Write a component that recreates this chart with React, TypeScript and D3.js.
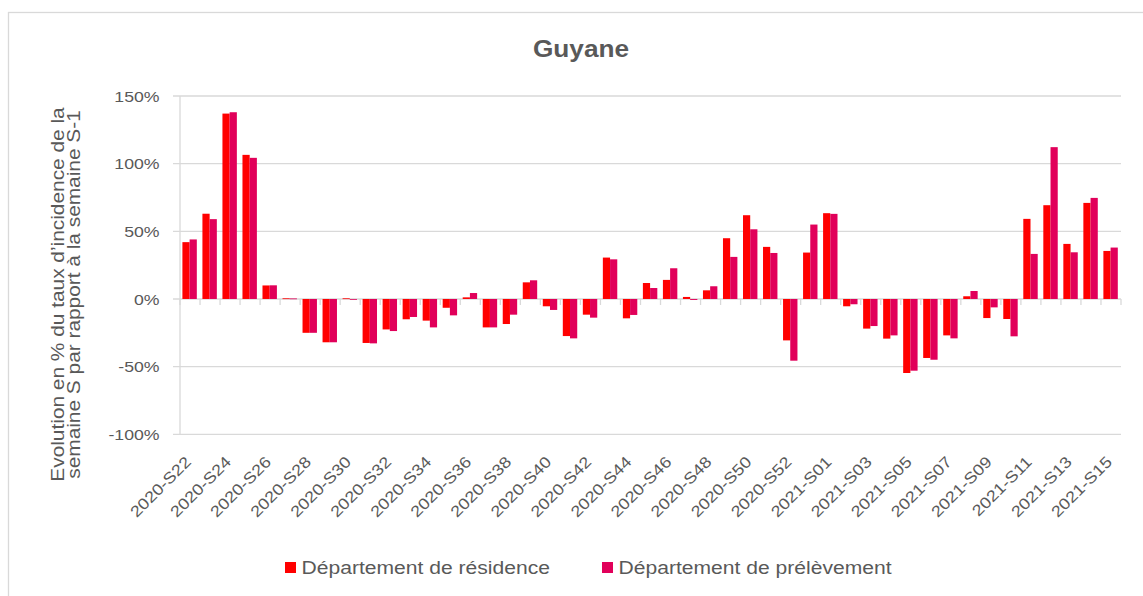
import React from "react";
import * as d3 from "d3";

const categories: string[] = [
  "2020-S22", "2020-S23", "2020-S24", "2020-S25", "2020-S26", "2020-S27", "2020-S28", "2020-S29",
  "2020-S30", "2020-S31", "2020-S32", "2020-S33", "2020-S34", "2020-S35", "2020-S36", "2020-S37",
  "2020-S38", "2020-S39", "2020-S40", "2020-S41", "2020-S42", "2020-S43", "2020-S44", "2020-S45",
  "2020-S46", "2020-S47", "2020-S48", "2020-S49", "2020-S50", "2020-S51", "2020-S52", "2020-S53",
  "2021-S01", "2021-S02", "2021-S03", "2021-S04", "2021-S05", "2021-S06", "2021-S07", "2021-S08",
  "2021-S09", "2021-S10", "2021-S11", "2021-S12", "2021-S13", "2021-S14", "2021-S15",
];

const residence: number[] = [
  42, 63, 137, 106.5, 10, 0.5, -25, -32, 0.5, -32.5, -22.5, -15, -16, -6.5, 1.2, -21,
  -18.5, 12.3, -5.4, -27.4, -11.6, 30.6, -14.3, 11.8, 14.1, 1.5, 6.4, 44.9, 61.9, 38.5, -30.6, 34.3,
  63.4, -5.4, -21.9, -29.3, -54.7, -43.6, -26.9, 2, -14.1, -14.8, 59.2, 69.3, 40.7, 71, 35.5,
];

const prelevement: number[] = [
  44, 59, 138, 104.3, 10.1, 0.4, -25, -32, 0, -32.8, -23.7, -13.3, -21, -12.1, 4.4, -21,
  -11.6, 13.8, -8.1, -29.1, -13.8, 29.3, -11.8, 8.1, 22.7, -0.7, 9.4, 31.1, 51.5, 34, -45.6, 55,
  62.9, -3.9, -20, -26.9, -53, -44.9, -29.1, 5.9, -6.2, -27.6, 33.3, 112.2, 34.5, 74.7, 38,
];

const yTicks: number[] = [150, 100, 50, 0, -50, -100];
const yTickLabels: string[] = ["150%", "100%", "50%", "0%", "-50%", "-100%"];

const seriesNames: string[] = ["Département de résidence", "Département de prélèvement"];
const seriesColors: string[] = ["#FF0000", "#E1005A"];

const title = "Guyane";
const yTitleLines: string[] = [
  "Evolution en % du taux d\u2019incidence de la",
  "semaine S par rapport à la semaine S-1",
];

const W = 1143;
const H = 596;
const PLOT = { left: 180, right: 1121, top: 96, bottom: 434.3 };
const TEXT = "#595959";
const GRID = "#D9D9D9";
const SX = 1.14;
const FONT = "'Liberation Sans', Arial, sans-serif";

export default function App() {
  const x = d3
    .scaleBand<string>()
    .domain(categories)
    .range([PLOT.left, PLOT.right])
    .paddingInner(0)
    .paddingOuter(0);
  const y = d3.scaleLinear().domain([-100, 150]).range([PLOT.bottom, PLOT.top]);
  const band = x.bandwidth();
  const groupW = band * 0.72;
  const x1 = d3
    .scaleBand<number>()
    .domain([0, 1])
    .range([(band - groupW) / 2 - 0.4, (band + groupW) / 2 - 0.4]);
  const series = [residence, prelevement];
  const y0 = y(0);

  return (
    <svg
      width={W}
      height={H}
      style={{ position: "absolute", left: 0, top: 0, background: "#fff" }}
      fontFamily={FONT}
    >
      <rect x={0} y={0} width={W} height={H} fill="#fff" />
      <rect x={8.5} y={12.5} width={W + 20} height={H + 20} fill="none" stroke={GRID} strokeWidth={1.3} />

      {/* title */}
      <text
        transform={`translate(581,57) scale(${SX},1)`}
        textAnchor="middle"
        fontSize={23}
        fontWeight="bold"
        fill={TEXT}
      >
        {title}
      </text>

      {/* gridlines */}
      {yTicks.map((t) => (
        <line
          key={"g" + t}
          x1={PLOT.left - 7}
          x2={PLOT.right}
          y1={y(t)}
          y2={y(t)}
          stroke={GRID}
          strokeWidth={1.3}
        />
      ))}
      {/* y axis line */}
      <line x1={PLOT.left} x2={PLOT.left} y1={PLOT.top} y2={PLOT.bottom} stroke={GRID} strokeWidth={1.3} />

      {/* x tick marks on zero line */}
      {categories.map((c, i) => (
        <line
          key={"xt" + i}
          x1={(x(c) as number)}
          x2={(x(c) as number)}
          y1={y0}
          y2={y0 + 6}
          stroke={GRID}
          strokeWidth={1.3}
        />
      ))}
      <line x1={PLOT.right} x2={PLOT.right} y1={y0} y2={y0 + 6} stroke={GRID} strokeWidth={1.3} />

      {/* bars */}
      {series.map((vals, s) =>
        vals.map((v, i) => {
          const bx = (x(categories[i]) as number) + (x1(s) as number);
          const top = Math.min(y(v), y0);
          const h = Math.abs(y(v) - y0);
          return (
            <rect
              key={`b${s}-${i}`}
              x={bx}
              y={top}
              width={x1.bandwidth()}
              height={Math.max(h, 0.8)}
              fill={seriesColors[s]}
            />
          );
        })
      )}

      {/* y tick labels */}
      {yTicks.map((t, i) => (
        <text
          key={"yl" + t}
          transform={`translate(159.5,${y(t) + 5.6}) scale(${SX},1)`}
          textAnchor="end"
          fontSize={15.5}
          fill={TEXT}
        >
          {yTickLabels[i]}
        </text>
      ))}

      {/* x labels */}
      {categories.map((c, i) =>
        i % 2 === 0 ? (
          <text
            key={"xl" + i}
            transform={`translate(${(x(c) as number) + band / 2 + 2},463) rotate(-45) scale(${SX},1)`}
            textAnchor="end"
            fontSize={15.8}
            fill={TEXT}
          >
            {c}
          </text>
        ) : null
      )}

      {/* y title */}
      {yTitleLines.map((line, i) => (
        <text
          key={"yt" + i}
          transform={`translate(${63.5 + i * 16.7},294.5) rotate(-90) scale(${SX},1)`}
          textAnchor="middle"
          fontSize={18.3}
          fill={TEXT}
        >
          {line}
        </text>
      ))}

      {/* legend */}
      {seriesNames.map((name, i) => {
        const lx = i === 0 ? 285 : 602;
        return (
          <g key={"lg" + i}>
            <rect x={lx} y={562} width={11} height={11} fill={seriesColors[i]} />
            <text
              transform={`translate(${lx + 16.5},573.5) scale(${SX},1)`}
              fontSize={18.5}
              fill={TEXT}
            >
              {name}
            </text>
          </g>
        );
      })}
    </svg>
  );
}
